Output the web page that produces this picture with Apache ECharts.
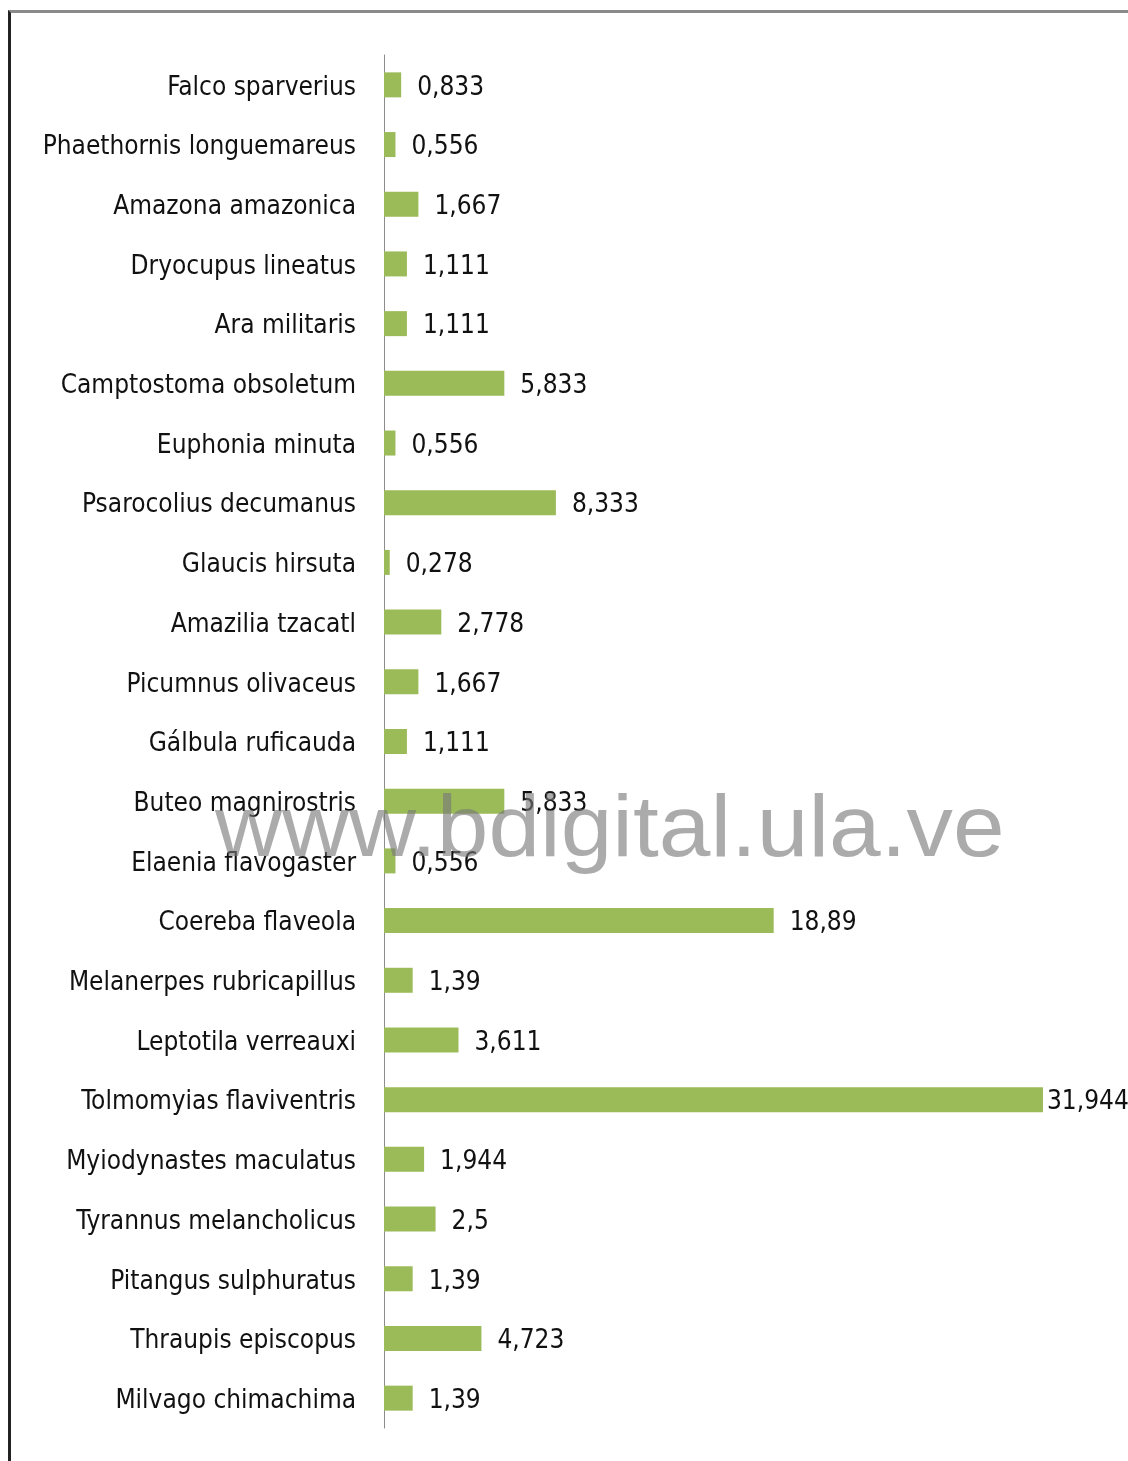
<!DOCTYPE html>
<html>
<head>
<meta charset="utf-8">
<script src="https://cdn.jsdelivr.net/npm/echarts@6/dist/echarts.min.js"></script>
<style>
  html, body { margin: 0; padding: 0; background: #fff; }
  #line { position: absolute; left: 0; top: 0; width: 1128px; height: 1461px; }
  #frame { position: absolute; left: 8px; top: 10px; right: 0; bottom: 0;
           border-top: 3px solid #8a8a8a; border-left: 3px solid #222; pointer-events: none; }
</style>
</head>
<body>
<div id="line"></div>
<div id="frame"></div>
<script>
var species = [
  'Falco sparverius', 'Phaethornis longuemareus', 'Amazona amazonica', 'Dryocupus lineatus',
  'Ara militaris', 'Camptostoma obsoletum', 'Euphonia minuta', 'Psarocolius decumanus',
  'Glaucis hirsuta', 'Amazilia tzacatl', 'Picumnus olivaceus', 'Gálbula ruficauda',
  'Buteo magnirostris', 'Elaenia flavogaster', 'Coereba flaveola', 'Melanerpes rubricapillus',
  'Leptotila verreauxi', 'Tolmomyias flaviventris', 'Myiodynastes maculatus', 'Tyrannus melancholicus',
  'Pitangus sulphuratus', 'Thraupis episcopus', 'Milvago chimachima'
];
var percent = [
  0.833, 0.556, 1.667, 1.111,
  1.111, 5.833, 0.556, 8.333,
  0.278, 2.778, 1.667, 1.111,
  5.833, 0.556, 18.89, 1.39,
  3.611, 31.944, 1.944, 2.5,
  1.39, 4.723, 1.39
];

var chart = echarts.init(document.getElementById('line'), null, {renderer: 'canvas'});
var font = '"DejaVu Sans Condensed", "Liberation Sans Narrow", sans-serif';

// the largest bar has its label tight against the bar end
var maxVal = Math.max.apply(null, percent);
var barData = percent.map(function (v) {
  return v === maxVal ? { value: v, label: { distance: 4 } } : v;
});

chart.setOption({
  animation: false,
  grid: { left: 384, right: 22, top: 55, bottom: 33 },
  xAxis: {
    type: 'value', min: 0, max: 35,
    show: false
  },
  yAxis: {
    type: 'category', data: species, inverse: true,
    axisLine: { show: true, lineStyle: { color: '#8c8c8c', width: 1 } },
    axisTick: { show: false },
    axisLabel: {
      margin: 28,
      formatter: function (v) { return '{n|' + v + '}'; },
      rich: { n: { color: '#111', fontFamily: font, fontSize: 26, padding: [6, 0, 0, 0] } }
    }
  },
  series: [{
    type: 'bar', data: barData, barWidth: 25,
    itemStyle: { color: '#9bbb59' },
    label: {
      show: true, position: 'right', distance: 16, offset: [0, 3],
      color: '#111', fontFamily: font, fontSize: 26,
      formatter: function (p) { return String(p.value).replace('.', ','); }
    }
  }],
  graphic: [{
    type: 'text', left: 215, top: 788, z: 100, scaleX: 1.055,
    style: { text: 'www.bdigital.ula.ve', fill: 'rgba(120,120,120,0.62)',
             font: '88px "Liberation Sans", Arial, sans-serif' }
  }]
});
</script>
</body>
</html>
